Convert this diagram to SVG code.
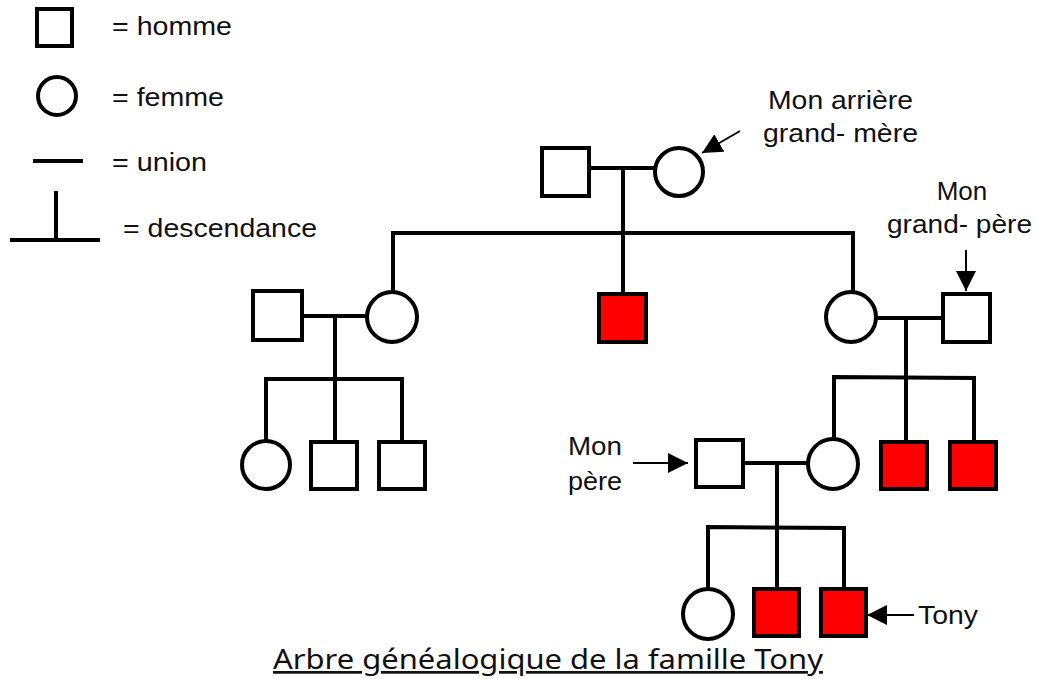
<svg xmlns="http://www.w3.org/2000/svg" width="1037" height="679" viewBox="0 0 1037 679">
<defs>
<style>
.s{fill:#fff;stroke:#000;stroke-width:4}
.r{fill:#f00;stroke:#000;stroke-width:4}
.l{fill:none;stroke:#000;stroke-width:4;stroke-linecap:square}
.a{fill:none;stroke:#000;stroke-width:2}
.t{font-family:"Liberation Sans",Arial,sans-serif;font-size:26px;fill:#111}
.title{font-family:"Noto Sans","Open Sans",sans-serif;font-size:27px;fill:#111;text-decoration:underline}
</style>
<marker id="ahb" viewBox="0 0 10 10" refX="10" refY="5" markerWidth="10" markerHeight="10" orient="auto">
<path d="M0,0 L10,5 L0,10 z" fill="#000"/>
</marker>
</defs>
<rect width="1037" height="679" fill="#fff"/>
<g id="legend">
<rect class="s" x="37" y="9" width="35" height="37"/>
<circle class="s" cx="57" cy="96" r="19"/>
<line class="l" x1="35" y1="161" x2="81" y2="161"/>
<line class="l" x1="56" y1="193" x2="56" y2="240"/>
<line class="l" x1="12" y1="240" x2="98" y2="240"/>
<text class="t" x="112" y="35" textLength="120" lengthAdjust="spacingAndGlyphs">= homme</text>
<text class="t" x="112" y="106" textLength="112" lengthAdjust="spacingAndGlyphs">= femme</text>
<text class="t" x="112" y="171" textLength="95" lengthAdjust="spacingAndGlyphs">= union</text>
<text class="t" x="123" y="237" textLength="194" lengthAdjust="spacingAndGlyphs">= descendance</text>
</g>
<g id="connectors">
<line class="l" x1="590" y1="168" x2="655" y2="168"/>
<line class="l" x1="623" y1="168" x2="623" y2="292"/>
<polyline class="l" points="393,295 393,233 853,233 853,292"/>
<line class="l" x1="303" y1="316" x2="366" y2="316"/>
<line class="l" x1="335" y1="316" x2="335" y2="441"/>
<polyline class="l" points="266,440 266,379 402,379 402,441"/>
<line class="l" x1="877" y1="318" x2="942" y2="318"/>
<line class="l" x1="906" y1="318" x2="906" y2="440"/>
<polyline class="l" points="834,439 834,377 974,378 974,440"/>
<line class="l" x1="744" y1="463" x2="807" y2="463"/>
<line class="l" x1="777" y1="463" x2="777" y2="588"/>
<polyline class="l" points="708,589 708,527 844,528 844,588"/>
<line class="a" x1="740" y1="131" x2="702" y2="153" marker-end="url(#ahb)"/>
<line class="a" x1="966" y1="250" x2="966" y2="291" marker-end="url(#ahb)"/>
<line class="a" x1="633" y1="463" x2="688" y2="463" marker-end="url(#ahb)"/>
<line class="a" x1="914" y1="615" x2="867" y2="615" marker-end="url(#ahb)"/>
</g>
<g id="n-top-m"><rect class="s" x="542" y="148" width="47" height="48"/></g>
<g id="n-top-f"><circle class="s" cx="679" cy="172" r="24"/></g>
<g id="n-mid-red"><rect class="r" x="599" y="294" width="47" height="48"/></g>
<g id="n-left-m"><rect class="s" x="253" y="291" width="49" height="49"/></g>
<g id="n-left-f"><circle class="s" cx="392" cy="317" r="25"/></g>
<g id="n-left-c1"><circle class="s" cx="266" cy="465" r="24"/></g>
<g id="n-left-c2"><rect class="s" x="311" y="442" width="46" height="47"/></g>
<g id="n-left-c3"><rect class="s" x="379" y="442" width="46" height="47"/></g>
<g id="n-right-f"><circle class="s" cx="851" cy="317" r="25"/></g>
<g id="n-gp"><rect class="s" x="943" y="294" width="47" height="48"/></g>
<g id="n-mother"><circle class="s" cx="833" cy="464" r="25"/></g>
<g id="n-uncle1"><rect class="r" x="881" y="442" width="46" height="47"/></g>
<g id="n-uncle2"><rect class="r" x="950" y="442" width="46" height="47"/></g>
<g id="n-father"><rect class="s" x="696" y="440" width="47" height="47"/></g>
<g id="n-sister"><circle class="s" cx="708" cy="614" r="25"/></g>
<g id="n-brother"><rect class="r" x="754" y="589" width="45" height="47"/></g>
<g id="n-tony"><rect class="r" x="821" y="589" width="45" height="47"/></g>
<g id="labels">
<text class="t" x="768" y="109" textLength="145" lengthAdjust="spacingAndGlyphs">Mon arrière</text>
<text class="t" x="763" y="142" textLength="155" lengthAdjust="spacingAndGlyphs">grand- mère</text>
<text class="t" x="962" y="200" text-anchor="middle">Mon</text>
<text class="t" x="887" y="233" textLength="145" lengthAdjust="spacingAndGlyphs">grand- père</text>
<text class="t" x="568" y="455" textLength="54" lengthAdjust="spacingAndGlyphs">Mon</text>
<text class="t" x="568" y="490" textLength="54" lengthAdjust="spacingAndGlyphs">père</text>
<text class="t" x="918" y="624" textLength="60" lengthAdjust="spacingAndGlyphs">Tony</text>
<text class="title" x="273" y="669" textLength="550" lengthAdjust="spacingAndGlyphs">Arbre généalogique de la famille Tony</text>
</g>
</svg>
